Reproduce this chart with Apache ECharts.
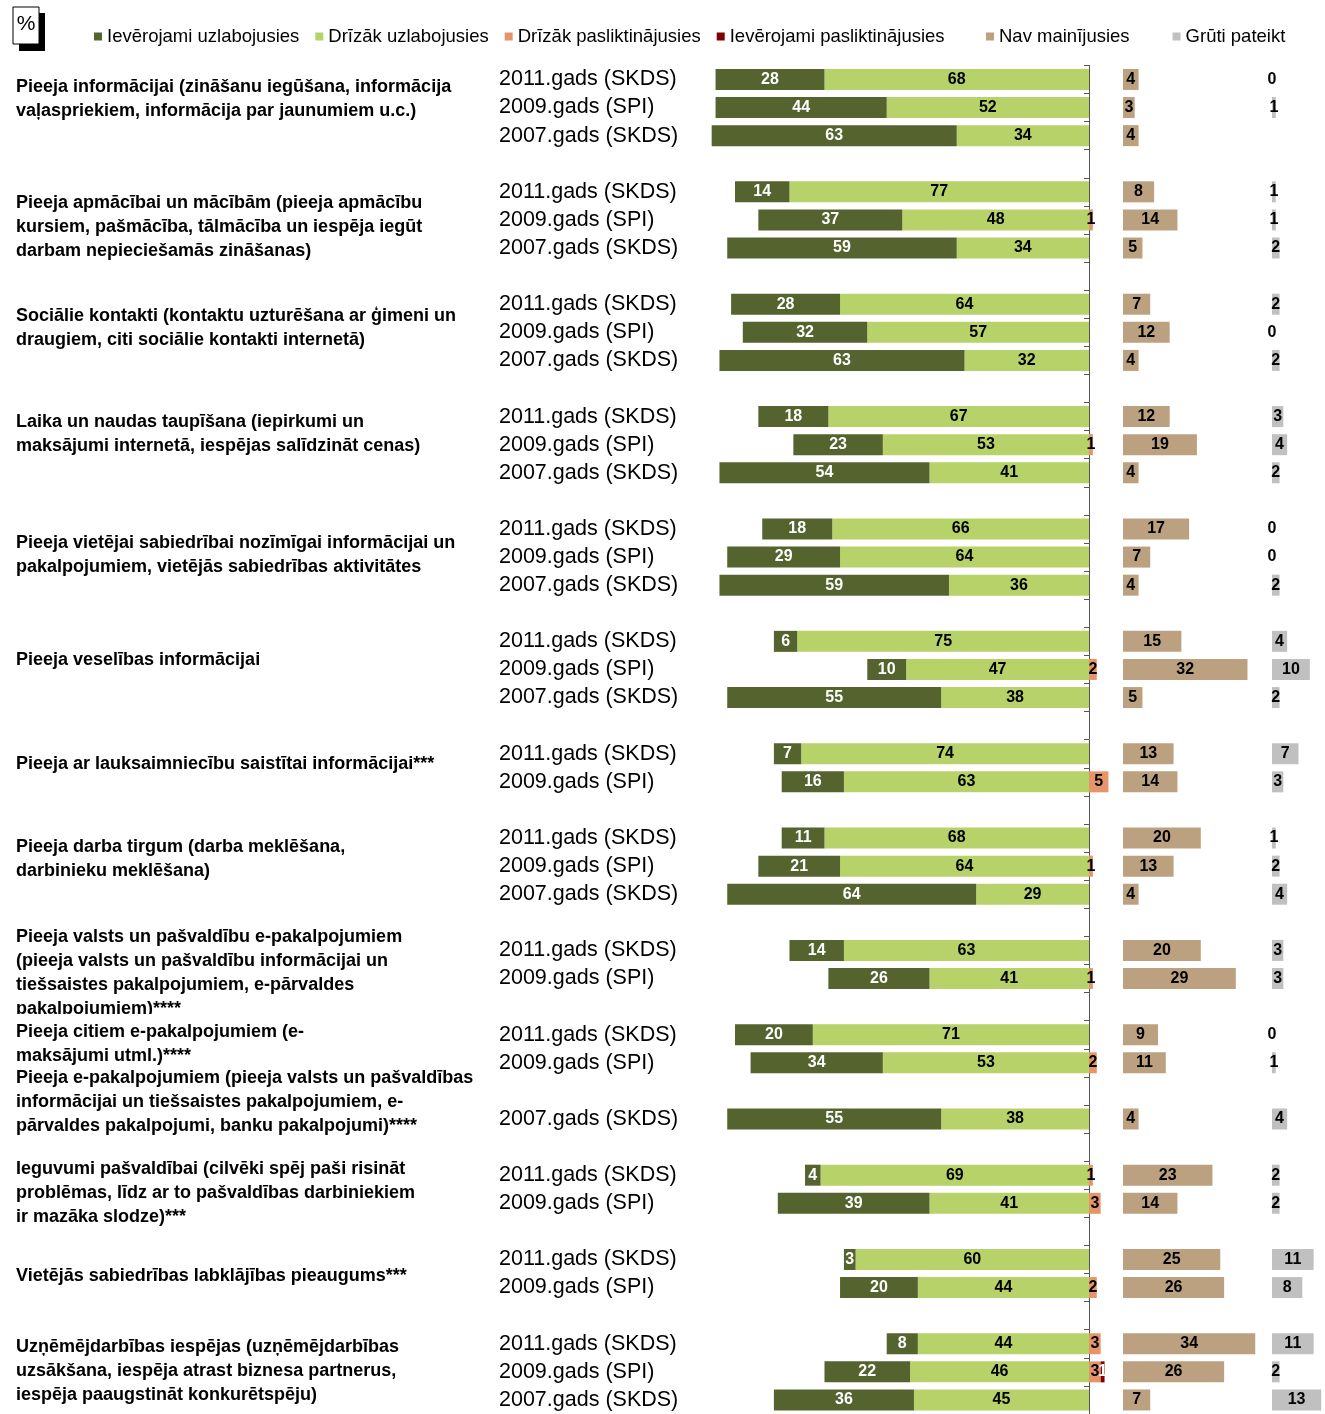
<!DOCTYPE html>
<html>
<head>
<meta charset="utf-8">
<script src="https://cdn.jsdelivr.net/npm/echarts@6/dist/echarts.min.js"></script>
<style>
html,body{margin:0;padding:0;background:#fff;}
#chart{width:1325px;height:1414px;}
</style>
</head>
<body>
<div id="chart"></div>
<script>
// ---------- DATA ----------
const Y11 = '2011.gads (SKDS)', Y09 = '2009.gads (SPI)', Y07 = '2007.gads (SKDS)';
const rowLabels = [
  Y11, Y09, Y07, '',
  Y11, Y09, Y07, '',
  Y11, Y09, Y07, '',
  Y11, Y09, Y07, '',
  Y11, Y09, Y07, '',
  Y11, Y09, Y07, '',
  Y11, Y09, '',
  Y11, Y09, Y07, '',
  Y11, Y09, '',
  Y11, Y09, '',
  Y07, '',
  Y11, Y09, '',
  Y11, Y09, '',
  Y11, Y09, Y07
];
const seriesNames = ['Ievērojami uzlabojusies', 'Drīzāk uzlabojusies', 'Drīzāk pasliktinājusies', 'Ievērojami pasliktinājusies', 'Nav mainījusies', 'Grūti pateikt'];
const strongImproved = [28,44,63,null, 14,37,59,null, 28,32,63,null, 18,23,54,null, 18,29,59,null, 6,10,55,null, 7,16,null, 11,21,64,null, 14,26,null, 20,34,null, 55,null, 4,39,null, 3,20,null, 8,22,36];
const modImproved    = [68,52,34,null, 77,48,34,null, 64,57,32,null, 67,53,41,null, 66,64,36,null, 75,47,38,null, 74,63,null, 68,64,29,null, 63,41,null, 71,53,null, 38,null, 69,41,null, 60,44,null, 44,46,45];
const modWorse       = [null,null,null,null, null,1,null,null, null,null,null,null, null,1,null,null, null,null,null,null, null,2,null,null, null,5,null, null,1,null,null, null,1,null, null,2,null, null,null, 1,3,null, null,2,null, 3,3,null];
const strongWorse    = [null,null,null,null, null,null,null,null, null,null,null,null, null,null,null,null, null,null,null,null, null,null,null,null, null,null,null, null,null,null,null, null,null,null, null,null,null, null,null, null,null,null, null,null,null, null,1,null];
const noChange       = [4,3,4,null, 8,14,5,null, 7,12,4,null, 12,19,4,null, 17,7,4,null, 15,32,5,null, 13,14,null, 20,13,4,null, 20,29,null, 9,11,null, 4,null, 23,14,null, 25,26,null, 34,26,7];
const hardToSay      = [0,1,null,null, 1,1,2,null, 2,0,2,null, 3,4,2,null, 0,0,2,null, 4,10,2,null, 7,3,null, 1,2,4,null, 3,3,null, 0,1,null, 4,null, 2,2,null, 11,8,null, 11,2,13];
const groupLabels = [
  'Pieeja informācijai (zināšanu iegūšana, informācija\nvaļaspriekiem, informācija par jaunumiem u.c.)',
  'Pieeja apmācībai un mācībām (pieeja apmācību\nkursiem, pašmācība, tālmācība un iespēja iegūt\ndarbam nepieciešamās zināšanas)',
  'Sociālie kontakti (kontaktu uzturēšana ar ģimeni un\ndraugiem, citi sociālie kontakti internetā)',
  'Laika un naudas taupīšana (iepirkumi un\nmaksājumi internetā, iespējas salīdzināt cenas)',
  'Pieeja vietējai sabiedrībai nozīmīgai informācijai un\npakalpojumiem, vietējās sabiedrības aktivitātes',
  'Pieeja veselības informācijai',
  'Pieeja ar lauksaimniecību saistītai informācijai***',
  'Pieeja darba tirgum (darba meklēšana,\ndarbinieku meklēšana)',
  'Pieeja valsts un pašvaldību e-pakalpojumiem\n(pieeja valsts un pašvaldību informācijai un\ntiešsaistes pakalpojumiem, e-pārvaldes\npakalpojumiem)****',
  'Pieeja citiem e-pakalpojumiem (e-\nmaksājumi utml.)****',
  'Pieeja e-pakalpojumiem (pieeja valsts un pašvaldības\ninformācijai un tiešsaistes pakalpojumiem, e-\npārvaldes pakalpojumi, banku pakalpojumi)****',
  'Ieguvumi pašvaldībai (cilvēki spēj paši risināt\nproblēmas, līdz ar to pašvaldības darbiniekiem\nir mazāka slodze)***',
  'Vietējās sabiedrības labklājības pieaugums***',
  'Uzņēmējdarbības iespējas (uzņēmējdarbības\nuzsākšana, iespēja atrast biznesa partnerus,\niespēja paaugstināt konkurētspēju)'
];

// ---------- STYLE / LAYOUT ----------
const FONT = '"Liberation Sans", Arial, sans-serif';
const colors = ['#55632E', '#B8D26A', '#E6956A', '#800000', '#BBA17F', '#C0C0C0'];
const groupLabelY = [87, 203, 316, 422, 543, 660, 764, 847, 937, 1032, 1078, 1169, 1276, 1347];
const PX = 3.89;           // pixels per percentage point
const ZERO_X = 1089;
const GRID_TOP = 65.4, GRID_H = 48 * 28.245;

const chart = echarts.init(document.getElementById('chart'), null, {renderer: 'canvas'});

function lbl(color) {
  return {
    show: true, position: 'inside', color: color,
    fontSize: 16, fontWeight: 'bold', fontFamily: FONT,
    formatter: p => (p.value == null ? '' : String(Math.abs(p.value)))
  };
}
const neg = arr => arr.map(v => v == null ? null : -v);

const catAxisBase = {type: 'category', data: rowLabels, inverse: true};

const graphics = [
  {type: 'rect', shape: {x: 19, y: 13, width: 26, height: 38}, style: {fill: '#000'}},
  {type: 'rect', shape: {x: 13, y: 7, width: 26, height: 37}, style: {fill: '#fff', stroke: '#000', lineWidth: 1}},
  {type: 'text', x: 26, y: 24, style: {text: '%', fill: '#000', fontSize: 21, fontFamily: FONT, align: 'center', verticalAlign: 'middle'}}
];
groupLabels.forEach((t, i) => {
  const st = {text: t, fill: '#000', fontSize: 18, fontWeight: 'bold', fontFamily: FONT, lineHeight: 24, verticalAlign: 'top', align: 'left'};
  let y = groupLabelY[i] - 12;
  if (i === 9) { st.backgroundColor = '#fff'; st.padding = [6, 4, 0, 0]; y -= 6; }
  graphics.push({type: 'text', x: 16, y: y, style: st});
});

const legendText = {fontSize: 18.5, color: '#000', fontFamily: FONT};
const option = {
  animation: false,
  backgroundColor: '#fff',
  textStyle: {fontFamily: FONT},
  legend: [
    {
      data: seriesNames.slice(0, 4), left: 94, top: 27, padding: 0,
      itemWidth: 8, itemHeight: 8, itemGap: 16, icon: 'rect',
      textStyle: legendText
    },
    {
      data: seriesNames.slice(4), left: 986, top: 27, padding: 0,
      itemWidth: 8, itemHeight: 8, itemGap: 43, icon: 'rect',
      textStyle: legendText
    }
  ],
  grid: [
    {left: ZERO_X - 100 * PX, width: 110 * PX, top: GRID_TOP, height: GRID_H},
    {left: 1123, width: 40 * PX, top: GRID_TOP, height: GRID_H},
    {left: 1272, width: 14 * PX, top: GRID_TOP, height: GRID_H}
  ],
  xAxis: [
    {gridIndex: 0, type: 'value', min: -100, max: 10, show: false},
    {gridIndex: 1, type: 'value', min: 0, max: 40, show: false},
    {gridIndex: 2, type: 'value', min: 0, max: 14, show: false}
  ],
  yAxis: [
    Object.assign({}, catAxisBase, {
      gridIndex: 0, position: 'left',
      axisLine: {show: false, onZero: false}, axisTick: {show: false},
      axisLabel: {interval: 0, align: 'left', margin: ZERO_X - 100 * PX - 499, fontSize: 21.5, color: '#000', fontFamily: FONT}
    }),
    Object.assign({}, catAxisBase, {
      gridIndex: 0, position: 'left',
      axisLine: {show: true, onZero: true, lineStyle: {color: '#555', width: 1}},
      axisTick: {show: true, interval: 0, length: 5, lineStyle: {color: '#555', width: 1}},
      axisLabel: {show: false}
    }),
    Object.assign({}, catAxisBase, {gridIndex: 1, show: false}),
    Object.assign({}, catAxisBase, {gridIndex: 2, show: false})
  ],
  series: [
    {name: seriesNames[1], type: 'bar', stack: 'div', xAxisIndex: 0, yAxisIndex: 0, barWidth: 21,
     data: neg(modImproved), itemStyle: {color: colors[1]}, label: lbl('#000')},
    {name: seriesNames[0], type: 'bar', stack: 'div', xAxisIndex: 0, yAxisIndex: 0, barWidth: 21,
     data: neg(strongImproved), itemStyle: {color: colors[0]}, label: lbl('#fff')},
    {name: seriesNames[2], type: 'bar', stack: 'div', xAxisIndex: 0, yAxisIndex: 0, barWidth: 21,
     data: modWorse, itemStyle: {color: colors[2]}, label: lbl('#000')},
    {name: seriesNames[3], type: 'bar', stack: 'div', xAxisIndex: 0, yAxisIndex: 0, barWidth: 21,
     data: strongWorse, itemStyle: {color: colors[3]}, label: lbl('#fff')},
    {name: seriesNames[4], type: 'bar', xAxisIndex: 1, yAxisIndex: 2, barWidth: 21,
     data: noChange, itemStyle: {color: colors[4]}, label: lbl('#000')},
    {name: seriesNames[5], type: 'bar', xAxisIndex: 2, yAxisIndex: 3, barWidth: 21,
     data: hardToSay, itemStyle: {color: colors[5]}, label: lbl('#000')}
  ],
  graphic: graphics
};
chart.setOption(option);
</script>
</body>
</html>
